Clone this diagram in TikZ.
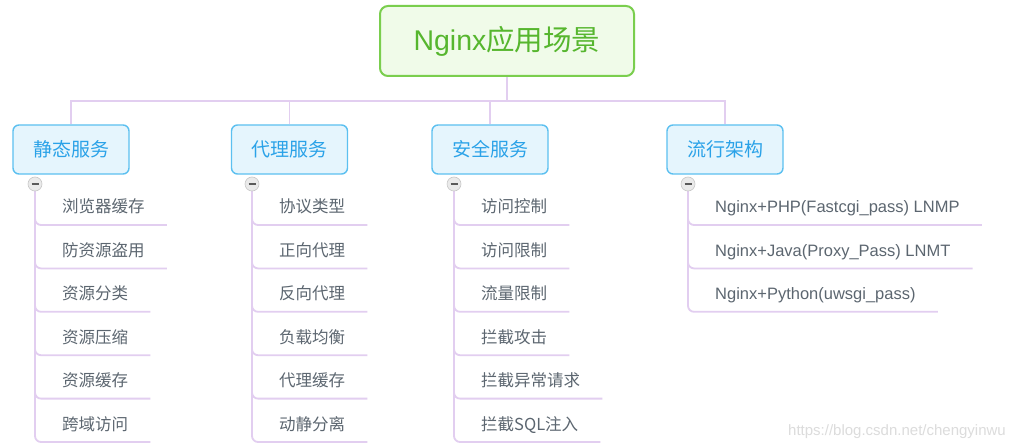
\documentclass[tikz,border=0pt]{standalone}
\usepackage{fontspec}
\setmainfont{Liberation Sans}
\newfontfamily\cjk{Noto Sans CJK SC}
\usetikzlibrary{calc}
\newcommand{\zh}[1]{{\cjk #1}}
\definecolor{connc}{RGB}{226,206,240}
\definecolor{rootfill}{RGB}{240,251,233}
\definecolor{rootdraw}{RGB}{122,206,78}
\definecolor{roottext}{RGB}{86,182,46}
\definecolor{catfill}{RGB}{229,245,253}
\definecolor{catdraw}{RGB}{92,192,240}
\definecolor{cattext}{RGB}{42,162,232}
\definecolor{kidtext}{RGB}{92,102,112}
\definecolor{btnfill}{RGB}{234,234,234}
\definecolor{btndraw}{RGB}{200,200,200}
\definecolor{btnmark}{RGB}{90,90,90}
\definecolor{wmark}{RGB}{220,220,220}
\tikzset{
  rootbox/.style={draw=rootdraw, fill=rootfill, line width=2pt, rounded corners=8pt,
    minimum width=254pt, minimum height=70pt, inner sep=0pt, text=roottext,
    font=\fontsize{28.5}{30}\selectfont},
  catbox/.style={draw=catdraw, fill=catfill, line width=1.4pt, rounded corners=6pt,
    minimum width=116pt, minimum height=49pt, inner sep=0pt, text=cattext,
    font=\fontsize{19}{21}\selectfont\cjk},
  conn/.style={draw=connc, line width=1.8pt},
  branch/.style={conn, rounded corners=6pt},
  kid/.style={anchor=west, inner sep=0pt, text=kidtext, text height=0.8em, text depth=0.2em,
    font=\fontsize{16.5}{18}\selectfont},
  btn/.style={circle, draw=btndraw, fill=btnfill, line width=0.6pt, minimum size=14pt, inner sep=0pt},
}
\begin{document}
\begin{tikzpicture}[x=1pt,y=-1pt]
\useasboundingbox (0,0) rectangle (1011,446);
\fill[white] (0,0) rectangle (1011,446);
% root and categories
\node[rootbox] (root) at (507,41) {Nginx\zh{应用场景}};
\node[catbox] (c1) at (71,149.5) {静态服务};
\node[catbox] (c2) at (289.5,149.5) {代理服务};
\node[catbox] (c3) at (490,149.5) {安全服务};
\node[catbox] (c4) at (725,149.5) {流行架构};
\coordinate (bar) at (0,101);
\draw[conn] (root.south) -- (root.south |- bar);
\draw[conn] (c1.north) -- (c1.north |- bar) -- (c4.north |- bar) -- (c4.north);
\draw[conn] (c2.north) -- (c2.north |- bar);
\draw[conn] (c3.north) -- (c3.north |- bar);
% branches of each category
\foreach \cat/\bx/\kids in {
  1/35/{浏览器缓存,防资源盗用,资源分类,资源压缩,资源缓存,跨域访问},
  2/252/{协议类型,正向代理,反向代理,负载均衡,代理缓存,动静分离},
  3/454/{访问控制,访问限制,流量限制,拦截攻击,拦截异常请求,\zh{拦截}SQL\zh{注入}},
  4/688/{Nginx+PHP(Fastcgi\_pass) LNMP,Nginx+Java(Proxy\_Pass) LNMT,Nginx+Python(uwsgi\_pass)}}{
  \coordinate (m\cat) at (\bx,184);
  \foreach \t [count=\i] in \kids {
    \node[kid] (k\cat\i) at (\bx+27,{225+43.4*(\i-1)-15}) {\ifnum\cat<4 \cjk\fi \t};
    \draw[branch] (m\cat) |- ($(k\cat\i.east)+(22,15)$);
  }
  \node[btn] (b\cat) at (m\cat) {};
  \draw[btnmark, line width=1.4pt] ($(b\cat.center)+(-3.5,0)$) -- ($(b\cat.center)+(3.5,0)$);
}
\node[anchor=east, inner sep=0pt, text=wmark, font=\fontsize{15}{16}\selectfont] (wm) at (1006,432) {https://blog.csdn.net/chengyinwu};
\end{tikzpicture}
\end{document}
